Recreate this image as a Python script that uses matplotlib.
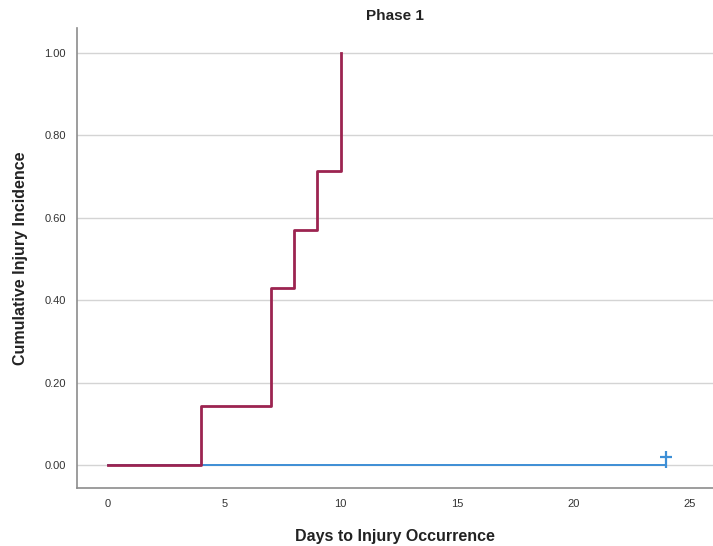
import matplotlib
matplotlib.use("Agg")
import matplotlib.pyplot as plt
from matplotlib.path import Path

plt.rcParams['font.family'] = ['Liberation Sans', 'DejaVu Sans']

# group 1 (injured) - cumulative incidence steps
red_days = [0, 4, 7, 8, 9, 10]
red_incidence = [0.0, 1/7, 3/7, 4/7, 5/7, 1.0]

# group 2 - no events, censored at day 24
blue_days = [0, 24]
blue_incidence = [0.0, 0.0]
censor_days = [24]
censor_incidence = [0.0]

x_ticks = [0, 5, 10, 15, 20, 25]
y_ticks = [0.0, 0.2, 0.4, 0.6, 0.8, 1.0]

# censor tick: vertical stroke rising above the line with a short crossbar
censor_marker = Path([(0, -0.2), (0, 1.0), (-0.45, 0.6), (0.45, 0.6)],
                     [Path.MOVETO, Path.LINETO, Path.MOVETO, Path.LINETO])

fig = plt.figure(figsize=(7.13, 5.46), dpi=100)
ax = fig.add_axes([0.108, 0.106, 0.892, 0.843])

for y in y_ticks:
    ax.axhline(y, color='#d4d4d4', linewidth=1.0, zorder=0)

ax.plot(blue_days, blue_incidence, color='#3d8fd6', linewidth=1.4, zorder=2)
ax.plot(censor_days, censor_incidence, linestyle='none', marker=censor_marker,
        markersize=20, markeredgewidth=1.6, color='#3d8fd6', zorder=3)
ax.plot(red_days, red_incidence, drawstyle='steps-post', color='#9c2450',
        linewidth=2.0, zorder=4)

ax.set_xlim(-1.33, 26.0)
ax.set_ylim(-0.056, 1.061)
ax.set_xticks(x_ticks)
ax.set_xticklabels([str(t) for t in x_ticks])
ax.set_yticks(y_ticks)
ax.set_yticklabels(['%.2f' % t for t in y_ticks])
ax.tick_params(axis='both', length=0, labelsize=8, colors='#333333', pad=8)

for side in ['top', 'right']:
    ax.spines[side].set_visible(False)
for side in ['left', 'bottom']:
    ax.spines[side].set_color('#8c8c8c')
    ax.spines[side].set_linewidth(1.2)

ax.set_title('Phase 1', fontsize=11, fontweight='bold', color='#222222', pad=6)
ax.set_xlabel('Days to Injury Occurrence', fontsize=11.5, fontweight='bold',
              color='#222222', labelpad=14)
ax.set_ylabel('Cumulative Injury Incidence', fontsize=11.5, fontweight='bold',
              color='#222222', labelpad=12)

fig.savefig('out.png', dpi=100)
